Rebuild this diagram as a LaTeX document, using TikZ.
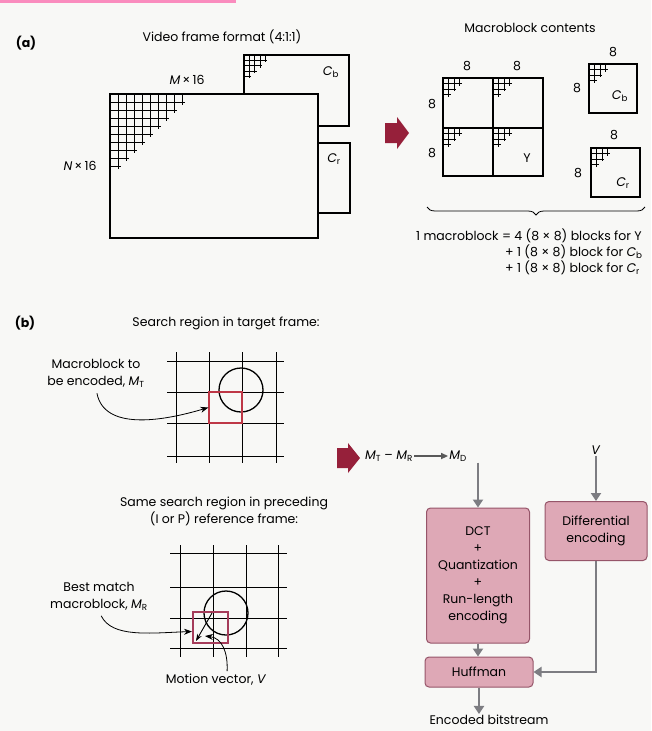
\documentclass[tikz,border=0pt]{standalone}
\usepackage{fontspec}
\setmainfont{Poppins}
\usetikzlibrary{arrows.meta,decorations.pathreplacing}

\definecolor{paper}{RGB}{248,248,246}
\definecolor{topbar}{RGB}{250,140,190}
\definecolor{mbarrow}{RGB}{150,32,58}
\definecolor{mtred}{RGB}{190,55,70}
\definecolor{mrred}{RGB}{165,60,90}
\definecolor{boxfill}{RGB}{222,168,182}
\definecolor{boxline}{RGB}{150,85,105}
\definecolor{flowgray}{RGB}{125,125,130}

% small staircase of 8x8 cells in a frame corner: x0, y0, count, cell
\newcommand{\stairgrid}[4]{%
  \foreach \i in {1,...,#3}{%
    \draw[line width=0.6pt] (#1,{#2+\i*#4}) -- ++({(#3+1.4-\i)*#4},0);
    \draw[line width=0.6pt] ({#1+\i*#4},#2) -- ++(0,{(#3+1.4-\i)*#4});
  }}

\begin{document}
\begin{tikzpicture}[x=1pt,y=-1pt,
  every node/.style={font=\fontsize{12.5}{17}\selectfont, inner sep=1pt},
  bold/.style={font=\fontsize{12.5}{14}\selectfont\bfseries},
  frm/.style={line width=1.3pt},
  gridline/.style={line width=0.9pt},
  procbox/.style={draw=boxline, fill=boxfill, rounded corners=4pt, line width=1pt, align=center, inner sep=0pt},
  grayarr/.style={draw=flowgray, line width=2.8pt, -{Triangle[width=10pt,length=8pt]}},
  pointer/.style={line width=0.8pt, -{Stealth[length=8pt,width=6pt]}}]
\useasboundingbox (0,0) rectangle (651,731);
\fill[paper] (0,0) rectangle (651,731);
\fill[topbar] (0,0) rectangle (236,3);

% (a) frame format
\node[bold] (alabel) at (26,43) {(a)};
\node (vfftitle) at (222,37) {Video frame format (4:1:1)};
\draw[frm] (244,94) -- (244,55) -- (349,55) -- (349,126) -- (318,126);
\draw[frm] (318,143) -- (350,143) -- (350,213) -- (318,213);
\stairgrid{244}{55}{4}{5.3}
\node (cblbl) at (331,72) {\textit{C}\textsubscript{b}};
\node (crlbl) at (334,159) {\textit{C}\textsubscript{r}};
\draw[frm] (110,94) rectangle (318,238);
\stairgrid{110}{94}{9}{8}
\node (mlbl) at (187,80) {\textit{M}\,×\,16};
\node (nlbl) at (80,166) {\textit{N}\,×\,16};
\fill[mbarrow] (385,123) -- (397,123) -- (397,117) -- (409,133) -- (397,149) -- (397,143) -- (385,143) -- cycle;

% macroblock
\node (mbtitle) at (530,28) {Macroblock contents};
\draw[frm] (443,78) rectangle (543,176);
\draw[frm] (493,78) -- (493,176);
\draw[frm] (443,128) -- (543,128);
\foreach \bx/\by in {443/78, 493/78, 443/128, 493/128} {\stairgrid{\bx}{\by}{3}{5.5}}
\node (ytopa) at (467,66) {8};
\node (ytopb) at (517,66) {8};
\node (ylefta) at (432,104) {8};
\node (yleftb) at (432,153) {8};
\node (ylbl) at (527,158) {Y};
\draw[frm] (589,64) rectangle (637,113);
\stairgrid{589}{64}{3}{5.5}
\node (cbtop) at (613,52) {8};
\node (cbleft) at (577,88) {8};
\node (cbname) at (620,96) {\textit{C}\textsubscript{b}};
\draw[frm] (591,148) rectangle (640,197);
\stairgrid{591}{148}{3}{5.5}
\node (crtop) at (614,135) {8};
\node (crleft) at (578,173) {8};
\node (crname) at (623,183) {\textit{C}\textsubscript{r}};
\draw[line width=0.8pt, decorate, decoration={brace, mirror, amplitude=8pt}] (427,207) -- (645,207);
\node[anchor=west] (suma) at (415,236) {1 macroblock = 4 (8 × 8) blocks for Y};
\node[anchor=west] (sumb) at (504,252) {+ 1 (8 × 8) block for \textit{C}\textsubscript{b}};
\node[anchor=west] (sumc) at (504,268) {+ 1 (8 × 8) block for \textit{C}\textsubscript{r}};

% (b) target frame
\node[bold] (blabel) at (25,323) {(b)};
\node (srtitle) at (226,323) {Search region in target frame:};
\foreach \gy in {361,392,423,456} \draw[gridline] (167,\gy) -- (284,\gy);
\foreach \gx in {176,209,242,276} \draw[gridline] (\gx,352) -- (\gx,463);
\draw[line width=1.3pt] (241,390) circle[radius=22];
\node[draw=mtred, line width=1.2pt, minimum width=33pt, minimum height=31pt, inner sep=0pt] (mt) at (225.5,407.5) {};
\node[align=center] (mtlbl) at (96,373) {Macroblock to\\be encoded, \textit{M}\textsubscript{T}};
\draw[pointer, shorten <=5pt] (mtlbl.south) .. controls (104,430) and (160,422) .. (mt.west);

% (b) reference frame
\node[align=center] (sstitle) at (224,511) {Same search region in preceding\\(I or P) reference frame:};
\foreach \gy in {553,587,618,648} \draw[gridline] (170,\gy) -- (287,\gy);
\foreach \gx in {180,213,246,278} \draw[gridline] (\gx,545) -- (\gx,657);
\draw[line width=1.3pt] (226,613) circle[radius=22];
\node[draw=mrred, line width=2pt, minimum width=35pt, minimum height=31pt, inner sep=0pt] (mr) at (210.5,627.5) {};
\node[align=center] (mrlbl) at (99,596) {Best match\\macroblock, \textit{M}\textsubscript{R}};
\draw[pointer, shorten <=5pt] (mrlbl.south) .. controls (112,638) and (150,633) .. ([yshift=-4pt]mr.west);
\coordinate (mvtail) at (212,613);
\coordinate (mvtip) at (196,641);
\draw[line width=0.9pt, -{Stealth[length=7pt,width=5pt]}] (mvtail) -- (mvtip);
\node (mvlbl) at (216,680) {Motion vector, \textit{V}};
\coordinate (mvhit) at (205,636);
\draw[pointer, shorten <=2pt] ([xshift=11pt]mvlbl.north) .. controls (228,652) and (222,638) .. (mvhit);

% coding chain
\fill[mbarrow] (337,448) -- (348,448) -- (348,443) -- (360,458) -- (348,473) -- (348,468) -- (337,468) -- cycle;
\node (mtmr) at (389,456) {\textit{M}\textsubscript{T} – \textit{M}\textsubscript{R}};
\node (md) at (458,456) {\textit{M}\textsubscript{D}};
\draw[line width=1.6pt, draw=black!65, -{Triangle[width=6pt,length=7pt]}] (mtmr) -- (md);
\node (vin) at (596,450) {\textit{V}};
\node[procbox, minimum width=103pt, minimum height=135pt] (dct) at (478,575.5) {DCT\\+\\Quantization\\+\\Run-length\\encoding};
\node[procbox, minimum width=102pt, minimum height=59pt] (diff) at (596,531) {Differential\\encoding};
\node[procbox, minimum width=108pt, minimum height=30pt] (huff) at (479,672) {Huffman};
\node (out) at (489,720) {Encoded bitstream};
\draw[grayarr] (md.south -| dct.north) -- (dct.north);
\draw[grayarr] (vin) -- (diff);
\draw[grayarr] (diff.south) |- (huff.east);
\draw[grayarr] (dct.south) -- (dct.south |- huff.north);
\draw[grayarr] (huff.south) -- (huff.south |- out.north);
\end{tikzpicture}
\end{document}
